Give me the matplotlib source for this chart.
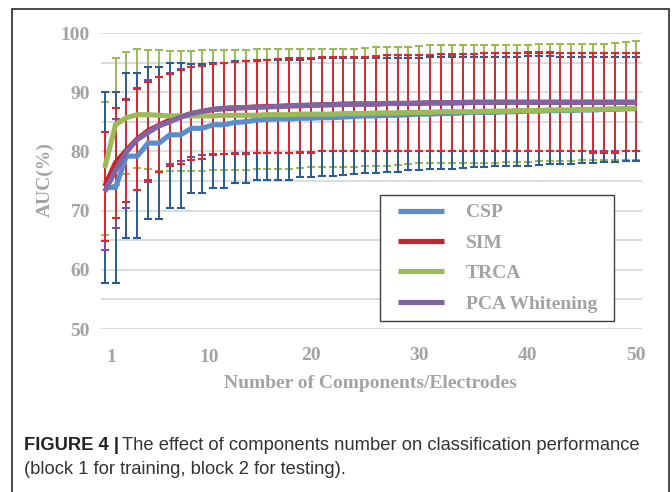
import matplotlib
matplotlib.use("Agg")
import matplotlib.pyplot as plt
import matplotlib.patches as mpatches
from matplotlib.ticker import MultipleLocator, FixedLocator
from matplotlib.legend_handler import HandlerLine2D
from matplotlib.lines import Line2D
import matplotlib.transforms as mtransforms
import numpy as np

# ---------------- data ----------------
components = list(range(1, 51))
x_tick_values = [1, 10, 20, 30, 40, 50]
series_names = ["CSP", "SIM", "TRCA", "PCA Whitening"]

csp_mean = [73.9, 73.9, 79.2, 79.2, 81.4, 81.4, 82.8, 82.8, 83.9, 83.9,
            84.5, 84.5, 84.9, 85.0, 85.3, 85.4, 85.5, 85.5, 85.6, 85.6,
            85.7, 85.7, 85.8, 85.9, 86.0, 86.0, 86.1, 86.1, 86.2, 86.3,
            86.3, 86.4, 86.4, 86.5, 86.6, 86.6, 86.6, 86.7, 86.7, 86.8,
            86.8, 86.9, 86.9, 86.9, 87.0, 87.0, 87.1, 87.1, 87.2, 87.2]
csp_upper = [90.1, 90.1, 93.2, 93.2, 94.3, 94.3, 95.0, 95.0, 94.7, 94.7,
             94.9, 94.9, 95.2, 95.2, 95.3, 95.4, 95.4, 95.4, 95.5, 95.6,
             95.7, 95.7, 95.7, 95.7, 95.7, 95.7, 95.8, 95.8, 95.8, 95.8,
             95.9, 95.9, 95.9, 95.9, 96.0, 96.0, 96.0, 96.0, 96.0, 96.1,
             96.1, 96.1, 96.0, 96.0, 96.0, 96.0, 96.0, 96.0, 96.0, 96.0]
csp_lower = [57.7, 57.7, 65.3, 65.3, 68.6, 68.6, 70.5, 70.5, 73.0, 73.0,
             73.8, 73.8, 74.7, 74.7, 75.2, 75.2, 75.2, 75.2, 75.6, 75.6,
             75.9, 75.9, 76.0, 76.1, 76.3, 76.3, 76.6, 76.6, 76.8, 76.9,
             77.0, 77.1, 77.1, 77.2, 77.4, 77.4, 77.5, 77.5, 77.6, 77.6,
             77.7, 77.8, 77.9, 77.9, 78.0, 78.1, 78.2, 78.2, 78.4, 78.4]

sim_mean = [74.1, 78.1, 80.2, 82.1, 83.5, 84.4, 85.3, 85.8, 86.4, 86.7,
            87.1, 87.2, 87.3, 87.4, 87.5, 87.6, 87.6, 87.7, 87.7, 87.8,
            87.9, 87.9, 88.0, 88.0, 88.0, 88.0, 88.1, 88.1, 88.1, 88.1,
            88.2, 88.2, 88.2, 88.2, 88.3, 88.3, 88.3, 88.3, 88.3, 88.3,
            88.3, 88.3, 88.3, 88.3, 88.3, 88.3, 88.3, 88.3, 88.3, 88.3]
sim_upper = [83.3, 87.3, 88.9, 90.7, 91.7, 92.5, 93.1, 93.7, 94.2, 94.5,
             94.7, 94.9, 95.05, 95.2, 95.4, 95.5, 95.6, 95.7, 95.7, 95.7,
             95.9, 95.9, 95.9, 95.9, 95.9, 96.0, 96.2, 96.2, 96.2, 96.2,
             96.3, 96.4, 96.3, 96.4, 96.5, 96.6, 96.6, 96.6, 96.6, 96.7,
             96.7, 96.7, 96.7, 96.7, 96.7, 96.7, 96.7, 96.7, 96.7, 96.7]
sim_lower = [64.9, 68.8, 71.4, 73.5, 75.2, 76.5, 77.6, 77.9, 78.6, 78.8,
             79.4, 79.5, 79.6, 79.6, 79.7, 79.7, 79.7, 79.7, 79.8, 79.8,
             80.0, 80.0, 80.0, 80.0, 80.0, 80.0, 80.0, 80.0, 80.0, 80.0,
             80.0, 80.0, 80.0, 80.0, 80.0, 80.0, 80.0, 80.0, 80.0, 80.0,
             80.0, 80.0, 80.0, 80.0, 80.0, 79.8, 79.7, 79.7, 80.0, 80.0]

trca_mean = [77.2, 84.5, 85.7, 86.2, 86.2, 86.1, 86.0, 86.0, 86.0, 86.0,
             86.0, 86.1, 86.1, 86.1, 86.1, 86.2, 86.2, 86.2, 86.3, 86.3,
             86.3, 86.3, 86.4, 86.4, 86.4, 86.5, 86.5, 86.5, 86.6, 86.6,
             86.6, 86.7, 86.7, 86.7, 86.7, 86.8, 86.8, 86.8, 86.9, 86.9,
             86.9, 87.0, 87.0, 87.0, 87.1, 87.1, 87.1, 87.2, 87.2, 87.3]
trca_upper = [88.3, 95.7, 96.8, 97.3, 97.2, 97.1, 97.0, 97.0, 97.0, 97.1,
              97.1, 97.1, 97.1, 97.1, 97.3, 97.3, 97.3, 97.3, 97.3, 97.3,
              97.3, 97.3, 97.3, 97.3, 97.5, 97.6, 97.7, 97.7, 97.7, 97.8,
              98.0, 98.0, 98.0, 98.0, 98.0, 98.0, 98.0, 98.0, 98.0, 98.0,
              98.1, 98.1, 98.1, 98.1, 98.1, 98.1, 98.1, 98.3, 98.5, 98.6]
trca_lower = [65.9, 74.3, 76.1, 77.2, 77.0, 76.7, 76.7, 76.7, 76.7, 76.7,
              76.8, 76.8, 76.8, 76.8, 77.0, 77.0, 77.1, 77.1, 77.2, 77.3,
              77.3, 77.4, 77.4, 77.4, 77.5, 77.6, 77.6, 77.7, 77.8, 78.0,
              78.0, 78.0, 78.0, 78.0, 78.1, 78.1, 78.1, 78.2, 78.2, 78.2,
              78.3, 78.3, 78.3, 78.4, 78.5, 78.5, 78.5, 78.5, 78.5, 78.6]

pca_mean = [73.2, 76.8, 79.9, 82.0, 83.2, 84.3, 85.0, 85.8, 86.4, 86.8,
            87.1, 87.3, 87.4, 87.4, 87.5, 87.5, 87.6, 87.7, 87.8, 87.8,
            87.8, 87.9, 87.9, 88.0, 88.0, 88.0, 88.1, 88.1, 88.1, 88.2,
            88.2, 88.2, 88.2, 88.3, 88.3, 88.3, 88.3, 88.3, 88.3, 88.3,
            88.3, 88.3, 88.3, 88.3, 88.3, 88.3, 88.3, 88.3, 88.3, 88.3]
pca_upper = [83.2, 85.5, 88.6, 90.6, 92.0, 92.6, 93.3, 93.9, 94.3, 94.5,
             94.7, 94.9, 95.1, 95.2, 95.4, 95.5, 95.6, 95.7, 95.8, 95.8,
             95.9, 95.9, 96.0, 96.0, 96.0, 96.1, 96.2, 96.2, 96.2, 96.3,
             96.3, 96.4, 96.4, 96.4, 96.5, 96.6, 96.6, 96.6, 96.7, 96.8,
             96.8, 96.8, 96.7, 96.7, 96.7, 96.7, 96.7, 96.7, 96.7, 96.7]
pca_lower = [63.3, 67.1, 70.5, 73.5, 74.8, 76.5, 77.8, 78.4, 79.1, 79.4,
             79.5, 79.6, 79.7, 79.7, 79.8, 79.8, 79.8, 79.8, 79.9, 79.9,
             80.0, 80.0, 80.0, 80.0, 80.0, 80.0, 80.0, 80.0, 80.0, 80.0,
             80.0, 80.0, 80.0, 80.0, 80.0, 80.0, 80.0, 80.0, 80.0, 80.0,
             80.0, 80.0, 80.0, 80.0, 80.0, 80.0, 80.0, 80.0, 80.0, 80.0]

# ---------------- style ----------------
W, H = 672, 492
fig = plt.figure(figsize=(W / 100, H / 100), dpi=100)
ax = fig.add_axes([101 / W, 1 - 329 / H, 541 / W, 296 / H])

line_colors = ["#5B8DCB", "#C3252C", "#9BBB59", "#8064A2"]
err_colors = ["#2B5C92", "#D62A33", "#9BBB59", "#7A4F9E"]
gray = "#A3A3A3"
serif = ["Liberation Serif", "DejaVu Serif"]

means = [csp_mean, sim_mean, trca_mean, pca_mean]
uppers = [csp_upper, sim_upper, trca_upper, pca_upper]
lowers = [csp_lower, sim_lower, trca_lower, pca_lower]

x = np.array(components)
err_order = [2, 0, 3, 1]
for k, i in enumerate(err_order):
    m = np.array(means[i]); up = np.array(uppers[i]); lo = np.array(lowers[i])
    ax.errorbar(x, m, yerr=[m - lo, up - m], fmt="none", ecolor=err_colors[i],
                elinewidth=1.4, capsize=3.0, capthick=1.5, zorder=2 + k * 0.1)

handles = []
for i in range(4):
    ln, = ax.plot(x, means[i], color=line_colors[i], lw=3.7,
                  solid_capstyle="butt", solid_joinstyle="miter",
                  zorder=4 + i * 0.1, label=series_names[i])
    handles.append(ln)

ax.set_xlim(0.66, 50.52)
ax.set_ylim(50, 100)
ax.yaxis.set_major_locator(MultipleLocator(10))
ax.yaxis.set_minor_locator(MultipleLocator(5))
ax.xaxis.set_major_locator(FixedLocator(x_tick_values))
ax.grid(axis="y", which="both", color="#D9D9D9", lw=1.3, zorder=0)
ax.set_axisbelow(True)
for s in ax.spines.values():
    s.set_visible(False)
ax.tick_params(axis="both", which="both", length=0)
ax.tick_params(axis="y", pad=8)
ax.tick_params(axis="x", pad=13)
for lab in ax.get_xticklabels() + ax.get_yticklabels():
    lab.set_family(serif)
    lab.set_weight("bold")
    lab.set_color(gray)
    lab.set_fontsize(14)
# small offset of first two x labels as in the reference
for lab in ax.get_xticklabels()[:2]:
    lab.set_transform(lab.get_transform() + mtransforms.ScaledTranslation(7 / 100, -2 / 100, fig.dpi_scale_trans))

ax.set_xlabel("Number of Components/Electrodes", family=serif, weight="bold",
              color=gray, fontsize=14)
ax.set_ylabel("AUC(%)", family=serif, weight="bold", color=gray, fontsize=14)
ax.xaxis.set_label_coords(269 / 541, (329 - 384) / 296)
ax.xaxis.label.set_va("center")
ax.yaxis.set_label_coords((45 - 101) / 541, (329 - 180) / 296)
ax.yaxis.label.set_va("center")

leg = ax.legend(handles=handles, loc="upper left",
                bbox_to_anchor=(380 / W, 1 - 195 / H, (614 - 380) / W, 0),
                bbox_transform=fig.transFigure, mode="expand", borderaxespad=0,
                frameon=True, fancybox=False, framealpha=1,
                edgecolor="#404040", borderpad=0.45, labelspacing=0.66,
                handlelength=2.85, handletextpad=1.1,
                handler_map={Line2D: HandlerLine2D(xpad=0.45)},
                prop={"family": serif, "weight": "bold", "size": 14})
leg.get_frame().set_linewidth(1.0)
for t in leg.get_texts():
    t.set_color(gray)
for lh in leg.get_lines():
    lh.set_linewidth(3.7)

# outer border
fig.add_artist(mpatches.Rectangle((12 / W, -0.05), (669 - 12) / W, (H - 9) / H + 0.05,
                                  transform=fig.transFigure, fill=False,
                                  edgecolor="#3A3A3A", lw=1.3, clip_on=False))

# caption
cap_font = ["Liberation Sans", "DejaVu Sans"]
cap_size = 13.2
t1 = fig.text(24 / W, 1 - 446 / H, "FIGURE 4 |", family=cap_font, weight="bold",
              fontsize=cap_size, color="#222222", va="center")
ax.annotate("The effect of components number on classification performance",
            xy=(1, 0.5), xycoords=t1, xytext=(2.5, 0), textcoords="offset points",
            va="center", ha="left", family=cap_font, fontsize=cap_size, color="#333333",
            annotation_clip=False)
fig.text(24 / W, 1 - 470 / H, "(block 1 for training, block 2 for testing).",
         family=cap_font, fontsize=cap_size, color="#333333", va="center")

fig.savefig("out.png", dpi=100)
